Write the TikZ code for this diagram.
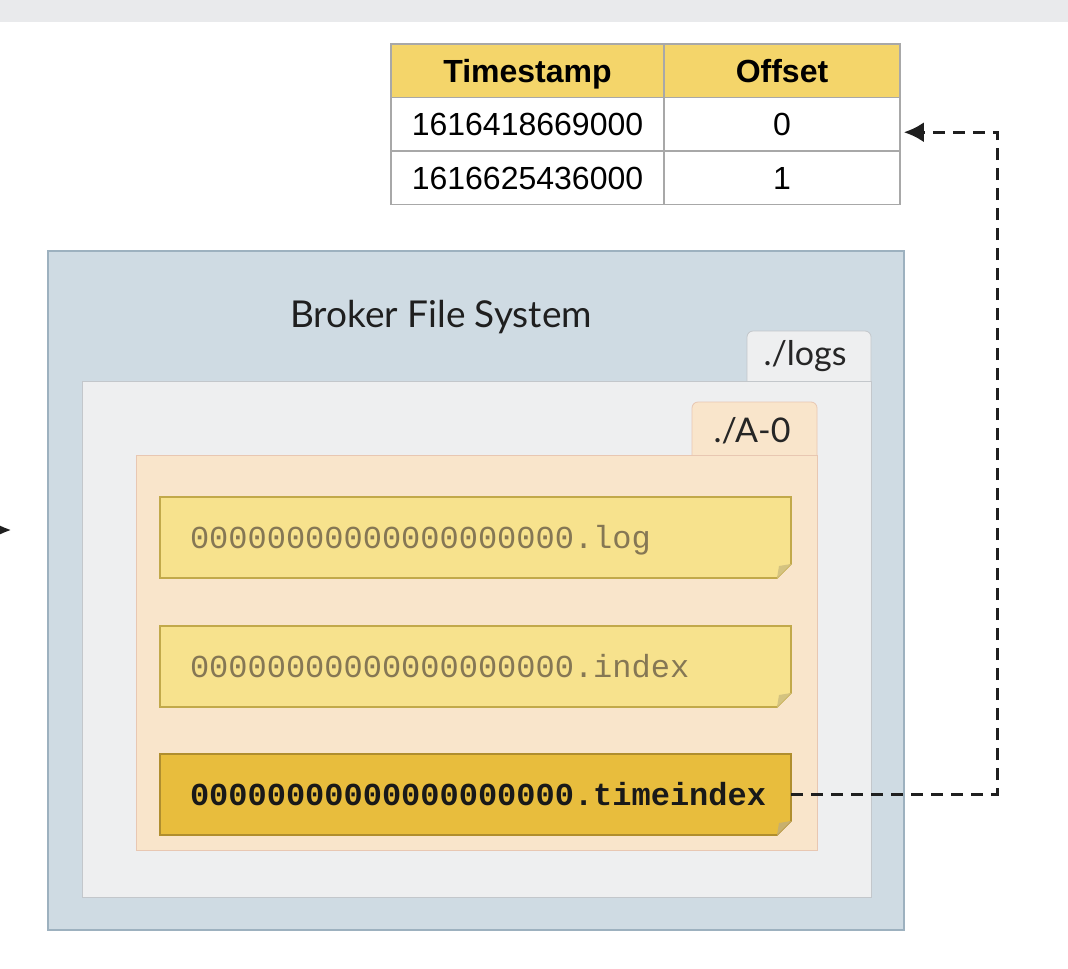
\documentclass[tikz,border=0pt]{standalone}
\usepackage{fontspec}
\setmainfont{Lato}
\newfontfamily\tablefont{Liberation Sans}
\newfontfamily\filefont{Liberation Mono}
\usetikzlibrary{arrows.meta}
\definecolor{stripgrey}{HTML}{E9EAEC}
\definecolor{brokerfill}{HTML}{CFDBE3}
\definecolor{brokerline}{HTML}{9DB1BF}
\definecolor{logsfill}{HTML}{EEEFF0}
\definecolor{logsline}{HTML}{C3C7CB}
\definecolor{partfill}{HTML}{F9E5CB}
\definecolor{partline}{HTML}{E8C7B2}
\definecolor{filelight}{HTML}{F7E28D}
\definecolor{filelightline}{HTML}{C2A94A}
\definecolor{filedark}{HTML}{E8BD3D}
\definecolor{filedarkline}{HTML}{B08E2E}
\definecolor{headfill}{HTML}{F4D56A}
\definecolor{cellline}{HTML}{A8A8A8}
\definecolor{filegrey}{HTML}{857754}
\begin{document}
\begin{tikzpicture}[x=0.5pt, y=-0.5pt,
    cell/.style = {draw=cellline, line width=0.8pt, minimum height=26.75pt, inner sep=0pt, text height=11.5pt, text depth=0pt, font=\tablefont\fontsize{16pt}{18pt}\selectfont},
    filetext/.style = {inner ysep=0pt, inner xsep=15pt, text width=285.5pt, align=left, minimum height=40.5pt, text height=10.5pt, text depth=0pt},
    tablabel/.style = {anchor=base, font=\fontsize{17pt}{20pt}\selectfont, text=black!85},
    dashline/.style = {line width=1.5pt, dash pattern=on 6pt off 4pt, black!88}]
    \useasboundingbox (0,0) rectangle (1068,968);
    \fill[white] (0,0) rectangle (1068,968);
    \fill[stripgrey] (0,0) rectangle (1068,22);
    % broker box
    \draw[brokerline, fill=brokerfill, line width=1pt] (48,251) rectangle (904,930);
    \node[anchor=base, font=\fontsize{18.5pt}{22pt}\selectfont, text=black!88] (broker) at (441,327) {Broker File System};
    % ./logs folder
    \draw[logsline, fill=logsfill, rounded corners=3pt] (747,382) -- (747,331) -- (871,331) -- (871,382);
    \draw[logsline, fill=logsfill] (82,381) rectangle (871,897);
    \node[tablabel] (logs) at (805,365) {./logs};
    % ./A-0 folder
    \draw[partline, fill=partfill, rounded corners=3pt] (692,456) -- (692,402) -- (817,402) -- (817,456);
    \draw[partline, fill=partfill] (136,455) rectangle (817,850);
    \node[tablabel] (part) at (752,442) {./A-0};
    % files
    \foreach \top/\fc/\lc in {497/filelight/filelightline, 626/filelight/filelightline, 754/filedark/filedarkline} {
        \draw[\lc, fill=\fc, line width=0.8pt] (160,\top) -- (791,\top) -- (791,\top+67) -- (777,\top+81) -- (160,\top+81) -- cycle;
        \fill[\lc!70] (791,\top+67) -- (777,\top+81) -- (779,\top+69) -- cycle;
    }
    \node[filetext, text=filegrey, font=\filefont\fontsize{16pt}{18pt}\selectfont] (logfile) at (475.5,537.5) {00000000000000000000.log};
    \node[filetext, text=filegrey, font=\filefont\fontsize{16pt}{18pt}\selectfont] (indexfile) at (475.5,666.5) {00000000000000000000.index};
    \node[filetext, text=black!90, font=\filefont\bfseries\fontsize{16pt}{18pt}\selectfont] (timefile) at (475.5,794.5) {00000000000000000000.timeindex};
    % table
    \node[cell, fill=headfill, minimum width=136.5pt] (tshead) at (527.5,70.75) {\bfseries Timestamp};
    \node[cell, fill=headfill, minimum width=118pt] (offhead) at (782,70.75) {\bfseries Offset};
    \node[cell, fill=white, minimum width=136.5pt] (tsone) at (527.5,124.25) {1616418669000};
    \node[cell, fill=white, minimum width=118pt] (offone) at (782,124.25) {0};
    \node[cell, fill=white, minimum width=136.5pt] (tstwo) at (527.5,177.75) {1616625436000};
    \node[cell, fill=white, minimum width=118pt] (offtwo) at (782,177.75) {1};
    % lookup arrow
    \coordinate (bend) at (997,794.5);
    \draw[dashline, -{Latex[length=10pt, width=10pt]}] (timefile.east) -- (bend) |- ([yshift=-4pt, xshift=1.5pt]offone.east);
    % arrow coming in from the left
    \coordinate (infrom) at (-40,530);
    \coordinate (into) at (11,530);
    \draw[line width=1.5pt, black!88, -{Latex[length=10pt, width=10pt]}] (infrom) -- (into);
\end{tikzpicture}
\end{document}
